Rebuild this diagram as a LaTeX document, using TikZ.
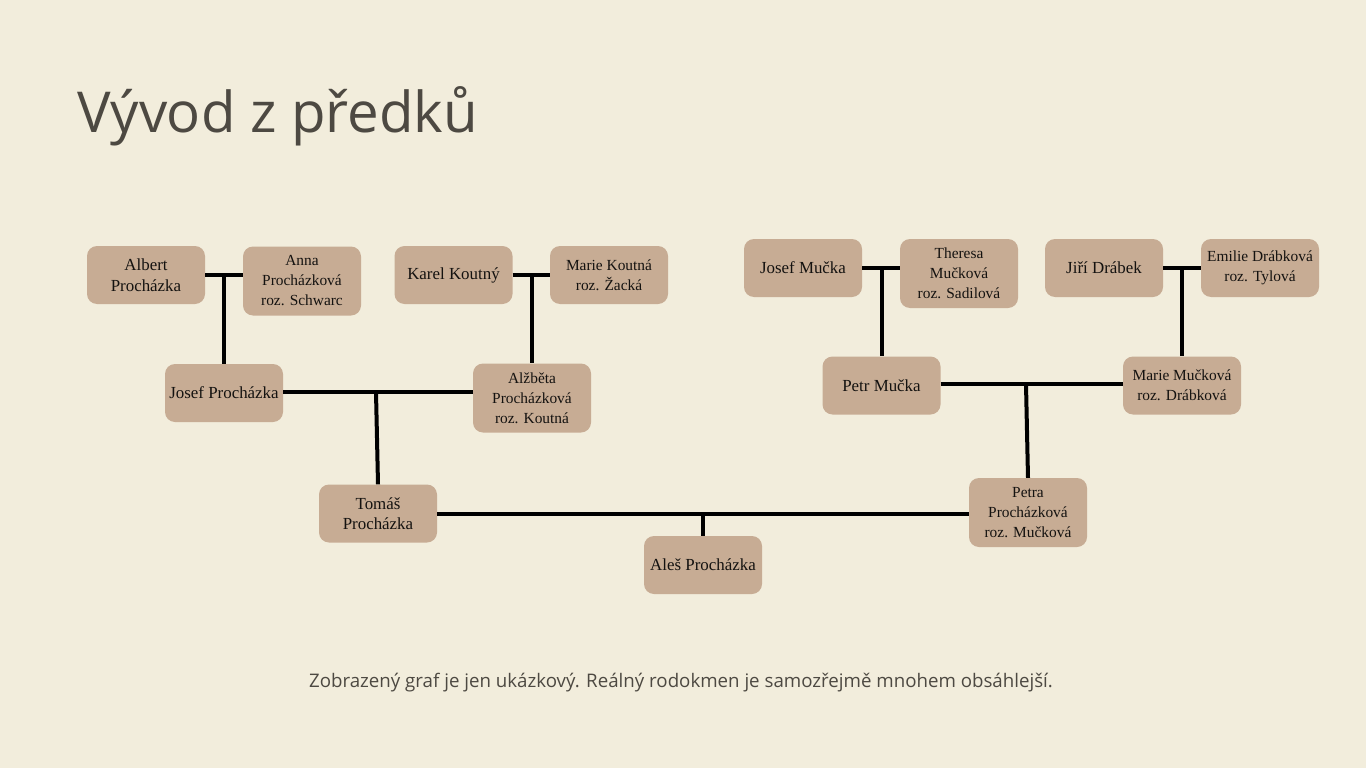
\documentclass[tikz,border=0pt]{standalone}
\usepackage{fontspec}
\setmainfont{Liberation Serif}
\newfontfamily\opensans{Open Sans}
\definecolor{bg}{RGB}{242,237,220}
\definecolor{boxfill}{RGB}{199,172,148}
\definecolor{titlecol}{RGB}{77,73,66}
\definecolor{txt}{RGB}{20,18,16}
\begin{document}
\begin{tikzpicture}[x=1pt,y=-1pt,
  person/.style={fill=boxfill, rounded corners=10pt, minimum width=118pt, inner sep=0pt,
    align=center, text=txt, font=\fontsize{16.9pt}{20.5pt}\selectfont},
  small/.style={font=\fontsize{15.4pt}{20pt}\selectfont},
  h58/.style={minimum height=58pt},
  h69/.style={minimum height=69pt},
  link/.style={line width=4pt, black}]
\fill[bg] (0,0) rectangle (1366,768);
\useasboundingbox (0,0) rectangle (1366,768);

\node[anchor=base west, text=titlecol, inner sep=0pt, font=\opensans\fontsize{56.4pt}{60pt}\selectfont] (title) at (77,132) {Výv\kern-0.5pt od z předků};

\node[anchor=base, text=titlecol, inner sep=0pt, font=\opensans\fontsize{18.7pt}{22pt}\selectfont] (caption) at (681,687) {Zobrazený graf je jen ukázkový. Reálný rodokmen je samozřejmě mnohem obsáhlejší.};

% generation 1
\node[person,h58] (albert) at (146,275) {Albert\\Procházka};
\node[person,h69,small] (anna) at (302,281) {Anna\\Procházková\\roz. Schwarc};
\node[person,h58] (karel) at (453.5,275) {Karel Koutný};
\node[person,h58,small] (mariek) at (609,275) {Marie Koutná\\roz. Žacká};
\node[person,h58] (josefm) at (803,268) {Josef Mučka};
\node[person,h69,small] (theresa) at (959,273.5) {Theresa\\Mučková\\roz. Sadilová};
\node[person,h58] (jiri) at (1104,268) {Jiří Drábek};
\node[person,h58,small] (emilie) at (1260,268) {Emilie Drábková\\roz. Tylová};

% generation 2
\node[person,h58] (josefp) at (224,393) {Josef Procházka};
\node[person,h69,small] (alzbeta) at (532,398) {Alžběta\\Procházková\\roz. Koutná};
\node[person,h58] (petr) at (881.5,385.5) {Petr Mučka};
\node[person,h58,small] (mariem) at (1182,385.5) {Marie Mučková\\roz. Drábková};

% generation 3
\node[person,h58] (tomas) at (378,513.5) {Tomáš\\Procházka};
\node[person,h69,small] (petra) at (1028,512.5) {Petra\\Procházková\\roz. Mučková};

% generation 4
\node[person,h58] (ales) at (703,565) {Aleš Procházka};

% couple lines and descent
\draw[link] (albert.east) -- (albert.east -| anna.west);
\draw[link] (josefp.north |- albert.east) -- (josefp.north);

\draw[link] (karel.east) -- (karel.east -| mariek.west);
\draw[link] (alzbeta.north |- karel.east) -- (alzbeta.north);

\draw[link] (josefm.east) -- (josefm.east -| theresa.west);
\draw[link] (petr.north |- josefm.east) -- (petr.north);

\draw[link] (jiri.east) -- (jiri.east -| emilie.west);
\draw[link] (mariem.north |- jiri.east) -- (mariem.north);

\coordinate (c1) at (376,392);
\draw[link] (josefp.east |- c1) -- (c1 -| alzbeta.west);
\draw[link] (c1) -- (tomas.north);

\coordinate (c2) at (1026,384);
\draw[link] (petr.east |- c2) -- (c2 -| mariem.west);
\draw[link] (c2) -- (petra.north);

\draw[link] (tomas.east) -- (tomas.east -| petra.west);
\draw[link] (ales.north |- tomas.east) -- (ales.north);
\end{tikzpicture}
\end{document}
